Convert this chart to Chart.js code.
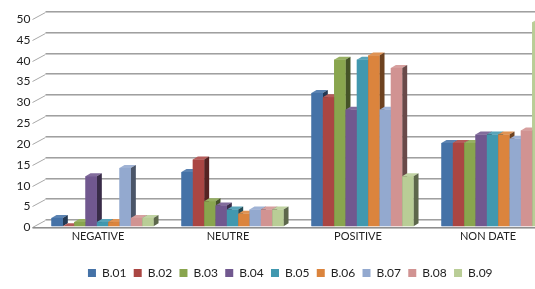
<!DOCTYPE html>
<html>
<head>
<meta charset="utf-8">
<script src="https://cdn.jsdelivr.net/npm/chart.js@4.4.1/dist/chart.umd.min.js"></script>
<style>
html, body { margin: 0; padding: 0; background: #fff; overflow: hidden; }
#wrap { width: 580px; height: 289px; }
</style>
</head>
<body>
<div id="wrap"><canvas id="chart"></canvas></div>
<script>
const categories = ['NEGATIVE', 'NEUTRE', 'POSITIVE', 'NON DATE'];
const seriesNames = ['B.01', 'B.02', 'B.03', 'B.04', 'B.05', 'B.06', 'B.07', 'B.08', 'B.09'];
const b01 = [2, 13, 32, 20];
const b02 = [0, 16, 31, 20];
const b03 = [1, 6, 40, 20];
const b04 = [12, 5, 28, 22];
const b05 = [1, 4, 40, 22];
const b06 = [1, 3, 41, 22];
const b07 = [14, 4, 28, 21];
const b08 = [2, 4, 38, 23];
const b09 = [2, 4, 12, 49];
const yTicks = [0, 5, 10, 15, 20, 25, 30, 35, 40, 45, 50];

const seriesValues = [b01, b02, b03, b04, b05, b06, b07, b08, b09];
const colors = ['#4572A7', '#AA4643', '#89A54E', '#71588F', '#4198AF', '#DB843D', '#93A9CF', '#D19392', '#B9CD96'];

// depth of the fake 3d bars and of the back wall
const DX = 5, DY = 3;
const WALL_DX = 8, WALL_DY = 6;

function shade(hex, f) {
    const n = parseInt(hex.slice(1), 16);
    let rgb = [(n >> 16) & 255, (n >> 8) & 255, n & 255];
    rgb = rgb.map(c => Math.round(f < 0 ? c * (1 + f) : c + (255 - c) * f));
    return `rgb(${rgb[0]},${rgb[1]},${rgb[2]})`;
}

const bars3d = {
    id: 'bars3d',
    beforeDatasetsDraw(chart) {
        const { ctx, chartArea, scales: { y } } = chart;
        const right = chart.width;
        ctx.save();
        ctx.font = '12px Lato';
        ctx.textAlign = 'right';
        ctx.textBaseline = 'middle';
        yTicks.forEach(v => {
            const py = Math.round(y.getPixelForValue(v));
            ctx.fillStyle = '#222';
            ctx.fillText(String(v), chartArea.left - 7, py + 1);
            ctx.strokeStyle = '#a8a8a8';
            ctx.lineWidth = 1;
            ctx.beginPath();
            ctx.moveTo(chartArea.left - 5, py + 1.5);
            ctx.lineTo(chartArea.left + WALL_DX, py - WALL_DY + 0.5);
            ctx.stroke();
            ctx.fillStyle = '#a0a0a0';
            ctx.fillRect(chartArea.left + WALL_DX, py - WALL_DY - 1, right, 1);
            ctx.fillStyle = '#cacaca';
            ctx.fillRect(chartArea.left + WALL_DX, py - WALL_DY, right, 1);
        });
        // front edge of the floor
        const p0 = Math.round(y.getPixelForValue(0));
        ctx.fillStyle = '#8e8e8e';
        ctx.fillRect(chartArea.left - 5, p0 + 1, right, 1);
        ctx.fillStyle = '#bdbdbd';
        ctx.fillRect(chartArea.left - 5, p0 + 2, right, 1);
        ctx.restore();
    },
    afterDatasetsDraw(chart) {
        const ctx = chart.ctx;
        ctx.save();
        chart.data.datasets.forEach((ds, i) => {
            const meta = chart.getDatasetMeta(i);
            meta.data.forEach(bar => {
                const { x, y, base, width } = bar.getProps(['x', 'y', 'base', 'width'], true);
                const l = x - width / 2, r = x + width / 2;
                const c = ds.backgroundColor;
                ctx.fillStyle = shade(c, 0.12);
                ctx.beginPath();
                ctx.moveTo(l, y); ctx.lineTo(l + DX, y - DY); ctx.lineTo(r + DX, y - DY); ctx.lineTo(r, y);
                ctx.closePath(); ctx.fill();
                ctx.fillStyle = shade(c, -0.5);
                ctx.beginPath();
                ctx.moveTo(r, y); ctx.lineTo(r + DX, y - DY); ctx.lineTo(r + DX, base - DY); ctx.lineTo(r, base);
                ctx.closePath(); ctx.fill();
                ctx.fillStyle = c;
                ctx.fillRect(l, y, width, base - y);
            });
        });
        ctx.restore();
    }
};

new Chart(document.getElementById('chart'), {
    type: 'bar',
    data: {
        labels: categories,
        datasets: seriesNames.map((name, i) => ({
            label: name,
            data: seriesValues[i],
            backgroundColor: colors[i],
            borderWidth: 0,
            barPercentage: 1,
            categoryPercentage: 0.785
        }))
    },
    options: {
        responsive: true,
        maintainAspectRatio: false,
        animation: false,
        devicePixelRatio: 1,
        layout: { padding: { left: 23, right: 22.5, top: 18, bottom: 0 } },
        plugins: {
            tooltip: { enabled: false },
            legend: {
                position: 'bottom',
                labels: {
                    boxWidth: 8,
                    boxHeight: 8,
                    padding: 7.25,
                    color: '#222',
                    font: { family: 'Lato', size: 12 }
                }
            }
        },
        scales: {
            x: {
                grid: { display: false, drawTicks: false },
                border: { display: false },
                ticks: { color: '#222', font: { family: 'Lato', size: 11 }, padding: 4, labelOffset: -4.5 },
                afterFit: s => { s.height = 33.5; }
            },
            y: {
                min: 0,
                max: 50,
                grid: { display: false, drawTicks: false },
                border: { display: false },
                afterBuildTicks: s => { s.ticks = yTicks.map(v => ({ value: v })); },
                ticks: { display: false },
                afterFit: s => { s.width = 14.5; }
            }
        }
    },
    plugins: [bars3d]
});
</script>
</body>
</html>
